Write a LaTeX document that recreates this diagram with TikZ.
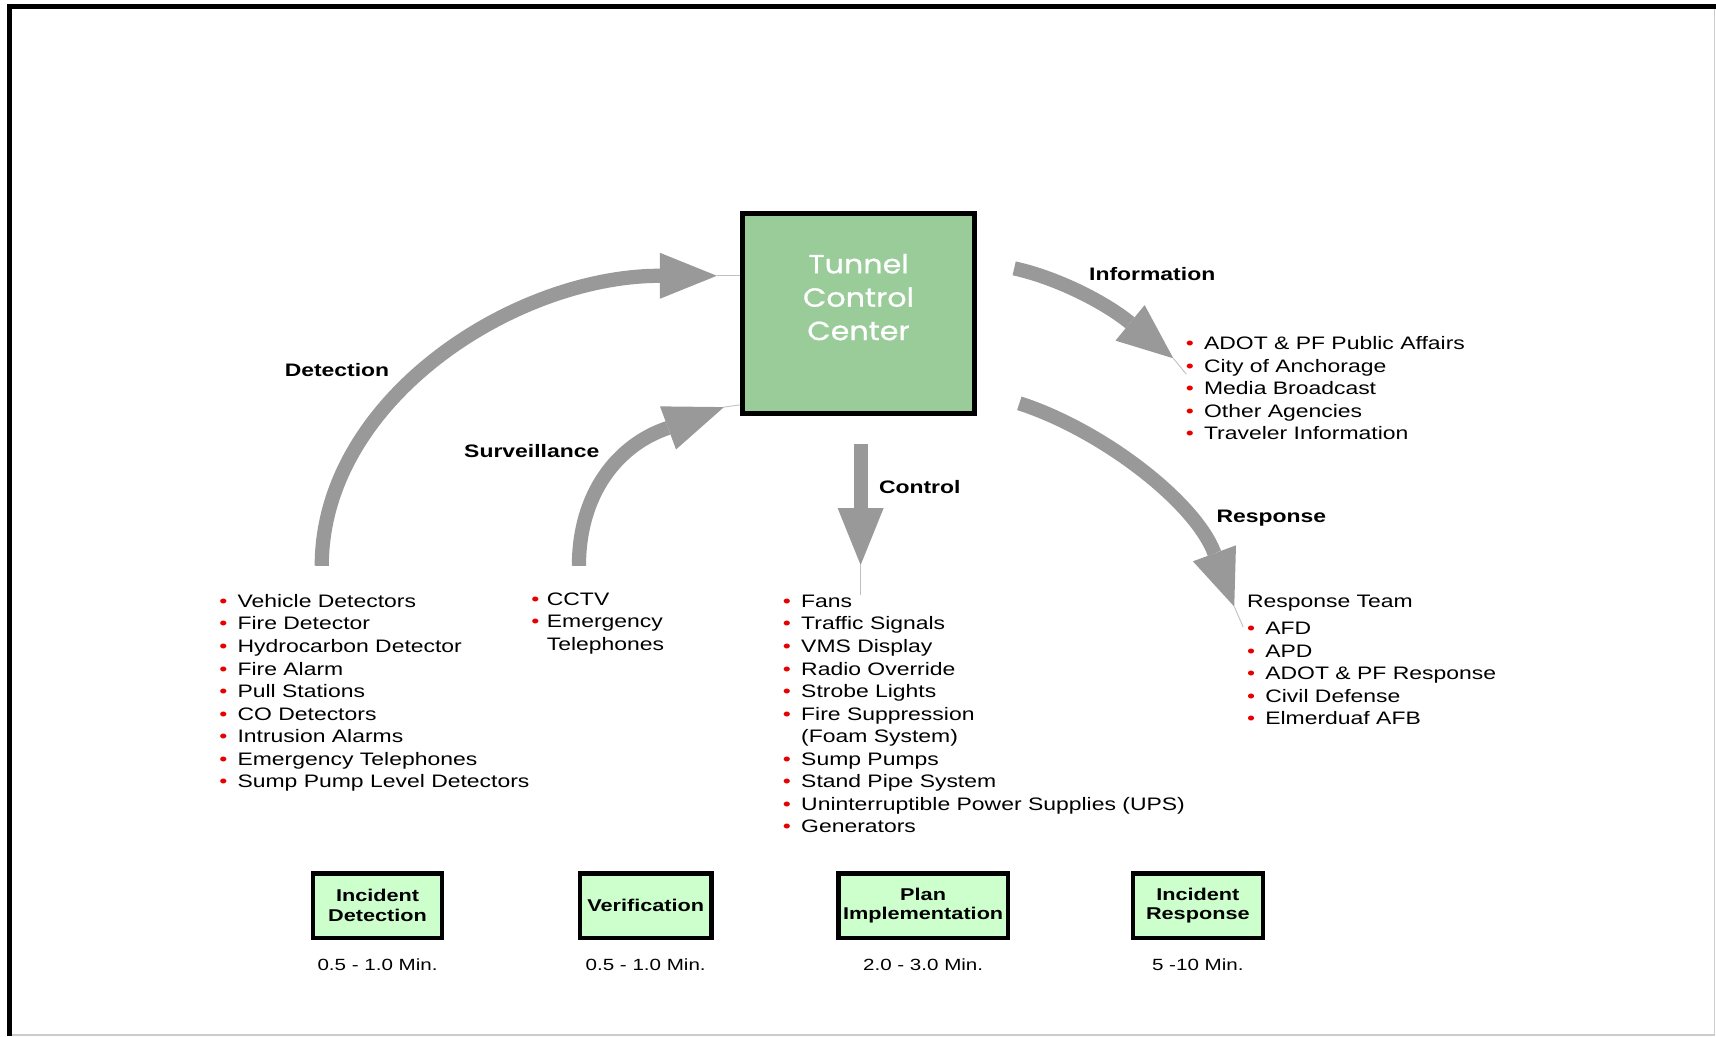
\documentclass[tikz,border=0pt]{standalone}
\usepackage{fontspec}
\setmainfont{Liberation Sans}[FakeStretch=1.27]
\newfontfamily\tccfont{Poppins}[FakeStretch=1.15,FakeBold=0.7]
\usepackage{tikz}
\usetikzlibrary{calc,positioning}

\definecolor{flowgray}{RGB}{153,153,153}
\definecolor{tccgreen}{RGB}{153,204,153}
\definecolor{stagegreen}{RGB}{204,255,204}
\definecolor{dotred}{RGB}{230,0,0}

\newcommand{\bul}[1][16.7pt]{\makebox[#1][l]{\textcolor{dotred}{•}}}
\newcommand{\nobul}[1][16.7pt]{\hspace*{#1}}
\newcommand{\flowhead}[2]{\fill[flowgray] ($(#1)!21pt!90:(#2)$) -- (#2) -- ($(#1)!21pt!-90:(#2)$) -- cycle;}

\begin{document}
\begin{tikzpicture}[x=1pt,y=-1pt,
    flow/.style={draw=flowgray,line width=13pt},
    tipline/.style={draw=black!25,line width=0.8pt},
    itemlist/.style={align=left,inner sep=0pt,anchor=base west,font=\fontsize{16.5}{20.6}\selectfont},
    flowlabel/.style={inner sep=0pt,anchor=base west,font=\fontsize{16.5}{20.6}\selectfont\bfseries},
    stage/.style={draw,line width=4pt,fill=stagegreen,align=center,inner sep=0pt,minimum height=59pt,font=\fontsize{15.6}{18}\selectfont\bfseries},
    stagetime/.style={inner sep=0pt,font=\fontsize{14.8}{18}\selectfont}]
  \useasboundingbox (0,0) rectangle (1568,947);
  \draw[black!20,line width=1.5pt] (1566.5,8) -- (1566.5,945.5) -- (10,945.5);
  \draw[line width=4.5pt] (8.7,947) -- (8.7,6) -- (1568,6);

  \node[draw,line width=4.5pt,fill=tccgreen,minimum width=212.5pt,minimum height=182.5pt] (tcc) at (784.5,286.5) {};
  \node[align=center,text=white,font=\tccfont\fontsize{24}{30.5}\selectfont] (tcctitle) at ([yshift=15pt]tcc.center) {Tunnel\\Control\\Center};

  % lists, anchored at the baseline of their last line
  \node[itemlist] (detlist) at (200.2,719.8) {\bul Vehicle Detectors\\ \bul Fire Detector\\ \bul Hydrocarbon Detector\\ \bul Fire Alarm\\ \bul Pull Stations\\ \bul CO Detectors\\ \bul Intrusion Alarms\\ \bul Emergency Telephones\\ \bul Sump Pump Level Detectors};
  \node[itemlist] (survlist) at (485.3,594.2) {\bul[14.2pt]CCTV\\ \bul[14.2pt]Emergency\\ \nobul[14.2pt]Telephones};
  \node[itemlist] (ctrllist) at (715.2,761) {\bul Fans\\ \bul Traffic Signals\\ \bul VMS Display\\ \bul Radio Override\\ \bul Strobe Lights\\ \bul Fire Suppression\\ \nobul (Foam System)\\ \bul Sump Pumps\\ \bul Stand Pipe System\\ \bul Uninterruptible Power Supplies (UPS)\\ \bul Generators};
  \node[itemlist] (infolist) at (1083.3,402) {\bul ADOT \& PF Public Affairs\\ \bul City of Anchorage\\ \bul Media Broadcast\\ \bul Other Agencies\\ \bul Traveler Information};
  \node[itemlist] (resplist) at (1139.3,662.4) {Response Team\\[4.4pt] \bul AFD\\ \bul APD\\ \bul ADOT \& PF Response\\ \bul Civil Defense\\ \bul Elmerduaf AFB};

  \node[flowlabel] (detlabel) at (260,344) {Detection};
  \node[flowlabel] (survlabel) at (424,418) {Surveillance};
  \node[flowlabel] (ctrllabel) at (803,451) {Control};
  \node[flowlabel] (infolabel) at (995,256) {Information};
  \node[flowlabel] (resplabel) at (1111.5,477) {Response};

  \coordinate (dettail) at (294,517);
  \coordinate (detbase) at (603,252);
  \coordinate (dettip) at (655,252);
  \draw[flow] (dettail) .. controls (294,365) and (470,252) .. (detbase);
  \flowhead{detbase}{dettip}
  \draw[tipline] (dettip) -- (tcc.west |- dettip);

  \coordinate (survtail) at (529,517);
  \coordinate (survbase) at (610.4,391);
  \coordinate (survtip) at (661.5,372);
  \draw[flow] (survtail) .. controls (529,450) and (565.3,406) .. (survbase);
  \flowhead{survbase}{survtip}
  \draw[tipline] (survtip) -- ([yshift=10pt]tcc.south west);

  \coordinate (ctrltail) at (786.4,406);
  \coordinate (ctrlbase) at (786.4,464.3);
  \coordinate (ctrltip) at (786.4,516.3);
  \draw[flow] (ctrltail) -- (ctrlbase);
  \flowhead{ctrlbase}{ctrltip}
  \draw[tipline] (ctrltip) -- (ctrltip |- ctrllist.north);

  \coordinate (infotail) at (926.7,245.2);
  \coordinate (infobase) at (1032.6,295);
  \coordinate (infotip) at (1072.1,327.4);
  \coordinate (infoend) at (1084,342);
  \draw[flow] (infotail) .. controls (965.7,253.8) and (1009.4,276) .. (infobase);
  \flowhead{infobase}{infotip}
  \draw[tipline] (infotip) -- (infoend);

  \coordinate (resptail) at (931.4,368.5);
  \coordinate (respbase) at (1109.7,505.6);
  \coordinate (resptip) at (1127.8,554.3);
  \coordinate (respend) at (1136,573);
  \draw[flow] (resptail) .. controls (1007.5,393.2) and (1092.2,458.8) .. (respbase);
  \flowhead{respbase}{resptip}
  \draw[tipline] (resptip) -- (respend);

  \node[stage,minimum width=118pt] (incdet) at (345,827.5) {Incident\\Detection};
  \node[stage,minimum width=120pt] (verif) at (590,827.5) {Verification};
  \node[stage,minimum width=155pt] (planimp) at (843.5,827.5) {Plan\\Implementation};
  \node[stage,minimum width=119pt] (incresp) at (1094.5,827.5) {Incident\\Response};
  \node[stagetime,below=17pt of incdet] (incdettime) {0.5 - 1.0 Min.};
  \node[stagetime,below=17pt of verif] (veriftime) {0.5 - 1.0 Min.};
  \node[stagetime,below=17pt of planimp] (planimptime) {2.0 - 3.0 Min.};
  \node[stagetime,below=17pt of incresp] (incresptime) {5 -10 Min.};
\end{tikzpicture}
\end{document}
